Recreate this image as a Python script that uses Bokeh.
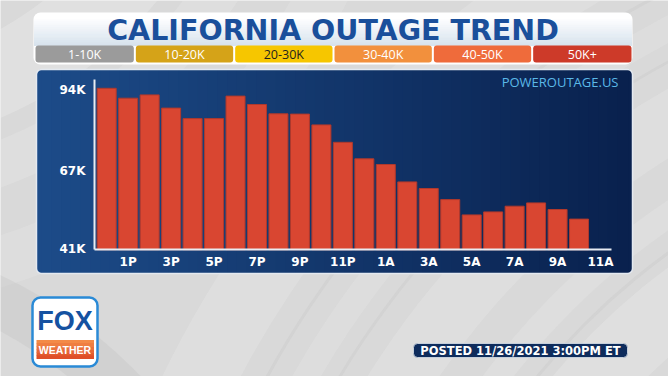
from bokeh.plotting import figure
from bokeh.models import Range1d, LinearAxis, FixedTicker
from bokeh.core.properties import value
from bokeh.embed import file_html
from bokeh.resources import INLINE

# ---------------- data ----------------
hours = ["12P", "1P", "2P", "3P", "4P", "5P", "6P", "7P", "8P", "9P", "10P", "11P",
         "12A", "1A", "2A", "3A", "4A", "5A", "6A", "7A", "8A", "9A", "10A", "11A"]
outages_k = [94.4, 91.1, 92.2, 87.8, 84.3, 84.3, 91.8, 89.0, 85.9, 85.8, 82.2, 76.4,
             70.9, 69.0, 63.2, 61.0, 57.3, 52.2, 53.2, 55.1, 56.2, 54.0, 50.8]
y_ticks = [41, 67, 94]
y_tick_labels = ["41K", "67K", "94K"]
x_tick_idx = [1, 3, 5, 7, 9, 11, 13, 15, 17, 19, 21, 23]
legend_labels = ["1-10K", "10-20K", "20-30K", "30-40K", "40-50K", "50K+"]
legend_colors = ["#9b9b9b", "#d5a318", "#f6c600", "#f2903d", "#ef6b3b", "#cd3a29"]
legend_text_colors = ["#ffffff", "#ffffff", "#1e1e1e", "#ffffff", "#ffffff", "#ffffff"]
title_text = "CALIFORNIA OUTAGE TREND"
source_text = "POWEROUTAGE.US"
posted_text = "POSTED 11/26/2021 3:00PM ET"

W, H = 668, 376


def hex2rgb(c):
    c = c.lstrip("#")
    return tuple(int(c[i:i + 2], 16) for i in (0, 2, 4))


def mix(c1, c2, t):
    a, b = hex2rgb(c1), hex2rgb(c2)
    return "#%02x%02x%02x" % tuple(int(round(a[i] + (b[i] - a[i]) * t)) for i in range(3))


p = figure(width=W, height=H, x_range=Range1d(0, W), y_range=Range1d(H, 0),
           x_axis_type=None, y_axis_type=None, toolbar_location=None,
           output_backend="svg", min_border=0, outline_line_color=None,
           background_fill_color="#d9d9d9", border_fill_color="#d9d9d9")

# value / slot ranges mapped on the full canvas
p.extra_y_ranges = {"val": Range1d(start=41 - 128 / 3.0, end=41 + 248 / 3.0)}
p.extra_x_ranges = {"slot": Range1d(start=-106.2 / 21.47, end=(W - 106.2) / 21.47)}

# ---------------- background swirls (soft) ----------------
rings = [(470, 540, 0.22), (560, 600, 0.15), (620, 690, 0.22), (720, 745, 0.18),
         (780, 840, 0.2), (880, 905, 0.15), (950, 1020, 0.2)]
for r0, r1, a in rings:
    p.annulus(x=1080, y=820, inner_radius=r0, outer_radius=r1,
              fill_color="#f6f6f6", fill_alpha=a, line_color=None)
for r in [545, 700, 862, 925]:
    p.annulus(x=1080, y=820, inner_radius=r, outer_radius=r + 3,
              fill_color="#b8b8b8", fill_alpha=0.18, line_color=None)
rings2 = [(330, 410, 0.25), (430, 475, 0.18), (520, 570, 0.15)]
for r0, r1, a in rings2:
    p.annulus(x=-160, y=-260, inner_radius=r0, outer_radius=r1,
              fill_color="#f6f6f6", fill_alpha=a, line_color=None)
p.annulus(x=-200, y=700, inner_radius=420, outer_radius=470,
          fill_color="#b5b5b5", fill_alpha=0.22, line_color=None)

# ---------------- title box ----------------
p.quad(left=33, right=632, top=12, bottom=64, border_radius=7,
       fill_color="#ffffff", line_color=None)
n = 14
ys = [19 + i * (45 - 19) / n for i in range(n)]
p.quad(left=[33.5] * n, right=[631.5] * n, top=ys, bottom=[y + 26 / n + 0.6 for y in ys],
       fill_color=[mix("#fbfcfe", "#d8e3ed", i / (n - 1)) for i in range(n)], line_color=None)

seg_w = (631 - 35) / 6.0
seg_l = [35 + i * seg_w + (1 if i > 0 else 0) for i in range(6)]
seg_r = [35 + (i + 1) * seg_w - (1 if i < 5 else 0) for i in range(6)]
p.quad(left=seg_l, right=seg_r, top=45, bottom=62, border_radius=3,
       fill_color=legend_colors, line_color=None)
p.text(x=[(a + b) / 2 for a, b in zip(seg_l, seg_r)], y=53.8, text=legend_labels,
       text_color=legend_text_colors, text_align="center", text_baseline="middle",
       text_font=value("Open Sans"), text_font_size="12.5px")

p.text(x=[332.5], y=[30], text=[title_text], text_align="center", text_baseline="middle",
       text_font=value("DejaVu Sans"), text_font_style="bold", text_font_size="28.5px",
       text_color="#1a4f9b")

# ---------------- chart panel ----------------
c_left, c_right = "#1c4b88", "#09214e"
p.quad(left=36, right=632, top=69, bottom=273, border_radius=5, fill_color=c_left, line_color=None)
p.quad(left=560, right=632, top=69, bottom=273, border_radius=5, fill_color=c_right, line_color=None)
m = 60
sw = (627 - 41) / m
xs = [41 + i * sw for i in range(m)]
p.quad(left=xs, right=[x + sw + 0.6 for x in xs], top=69, bottom=273,
       fill_color=[mix(c_left, c_right, (i + 0.5) / m) for i in range(m)], line_color=None)
p.quad(left=36, right=632, top=69, bottom=273, border_radius=5, fill_color=None,
       line_color="#e4e9f0", line_width=1.5)

p.text(x=[618], y=[81], text=[source_text], text_align="right", text_baseline="middle",
       text_font=value("Open Sans"), text_font_size="13px", text_color="#5bb9e8")

# bars
p.vbar(x=list(range(len(outages_k))), top=outages_k, bottom=40.6, width=0.885,
       x_range_name="slot", y_range_name="val",
       fill_color="#d94631", line_color="#b0392c", line_width=1)

# axes
yax = LinearAxis(y_range_name="val", fixed_location=94,
                 ticker=FixedTicker(ticks=y_ticks),
                 major_label_overrides=dict(zip(y_ticks, y_tick_labels)),
                 bounds=(40.67, 97.3), axis_line_color="#e8ecf2", axis_line_width=2,
                 major_tick_line_color=None, minor_tick_line_color=None,
                 major_tick_out=0, major_tick_in=0, major_label_standoff=9,
                 major_label_text_color="#ffffff", major_label_text_font="DejaVu Sans",
                 major_label_text_font_style="bold", major_label_text_font_size="12px")
p.add_layout(yax, "left")

xax = LinearAxis(x_range_name="slot", fixed_location=249,
                 ticker=FixedTicker(ticks=x_tick_idx),
                 major_label_overrides={i: hours[i] for i in x_tick_idx},
                 bounds=(-0.57, 23.51), axis_line_color="#e8ecf2", axis_line_width=2,
                 major_tick_line_color=None, minor_tick_line_color=None,
                 major_tick_out=0, major_tick_in=0, major_label_standoff=5,
                 major_label_text_color="#ffffff", major_label_text_font="DejaVu Sans",
                 major_label_text_font_style="bold", major_label_text_font_size="12px")
p.add_layout(xax, "below")

# ---------------- logo ----------------
p.quad(left=32, right=97, top=297, bottom=366, border_radius=8,
       fill_color="#ffffff", line_color="#2a8ad6", line_width=2.5)
k = 6
oy = [339.5 + i * 18.5 / k for i in range(k)]
p.quad(left=36, right=93.5, top=oy, bottom=[y + 18.5 / k + 0.5 for y in oy],
       fill_color=[mix("#f38a47", "#df4f28", i / (k - 1)) for i in range(k)], line_color=None)
p.text(x=[64.5], y=[320], text=["FOX"], text_align="center", text_baseline="middle",
       text_font=value("Liberation Sans"), text_font_style="bold", text_font_size="27px",
       text_color="#1552a1")
p.text(x=[64.5], y=[349.5], text=["WEATHER"], text_align="center", text_baseline="middle",
       text_font=value("Liberation Sans"), text_font_style="bold", text_font_size="10.5px",
       text_color="#ffffff")

# ---------------- posted stamp ----------------
p.quad(left=413, right=627, top=343, bottom=357, border_radius=4,
       fill_color="#0e2c5c", line_color="#c5cfdb", line_width=1)
p.text(x=[520], y=[350.3], text=[posted_text], text_align="center", text_baseline="middle",
       text_font=value("DejaVu Sans"), text_font_style="bold", text_font_size="11.5px",
       text_color="#ffffff")

open("out.html", "w").write(file_html(p, INLINE))
